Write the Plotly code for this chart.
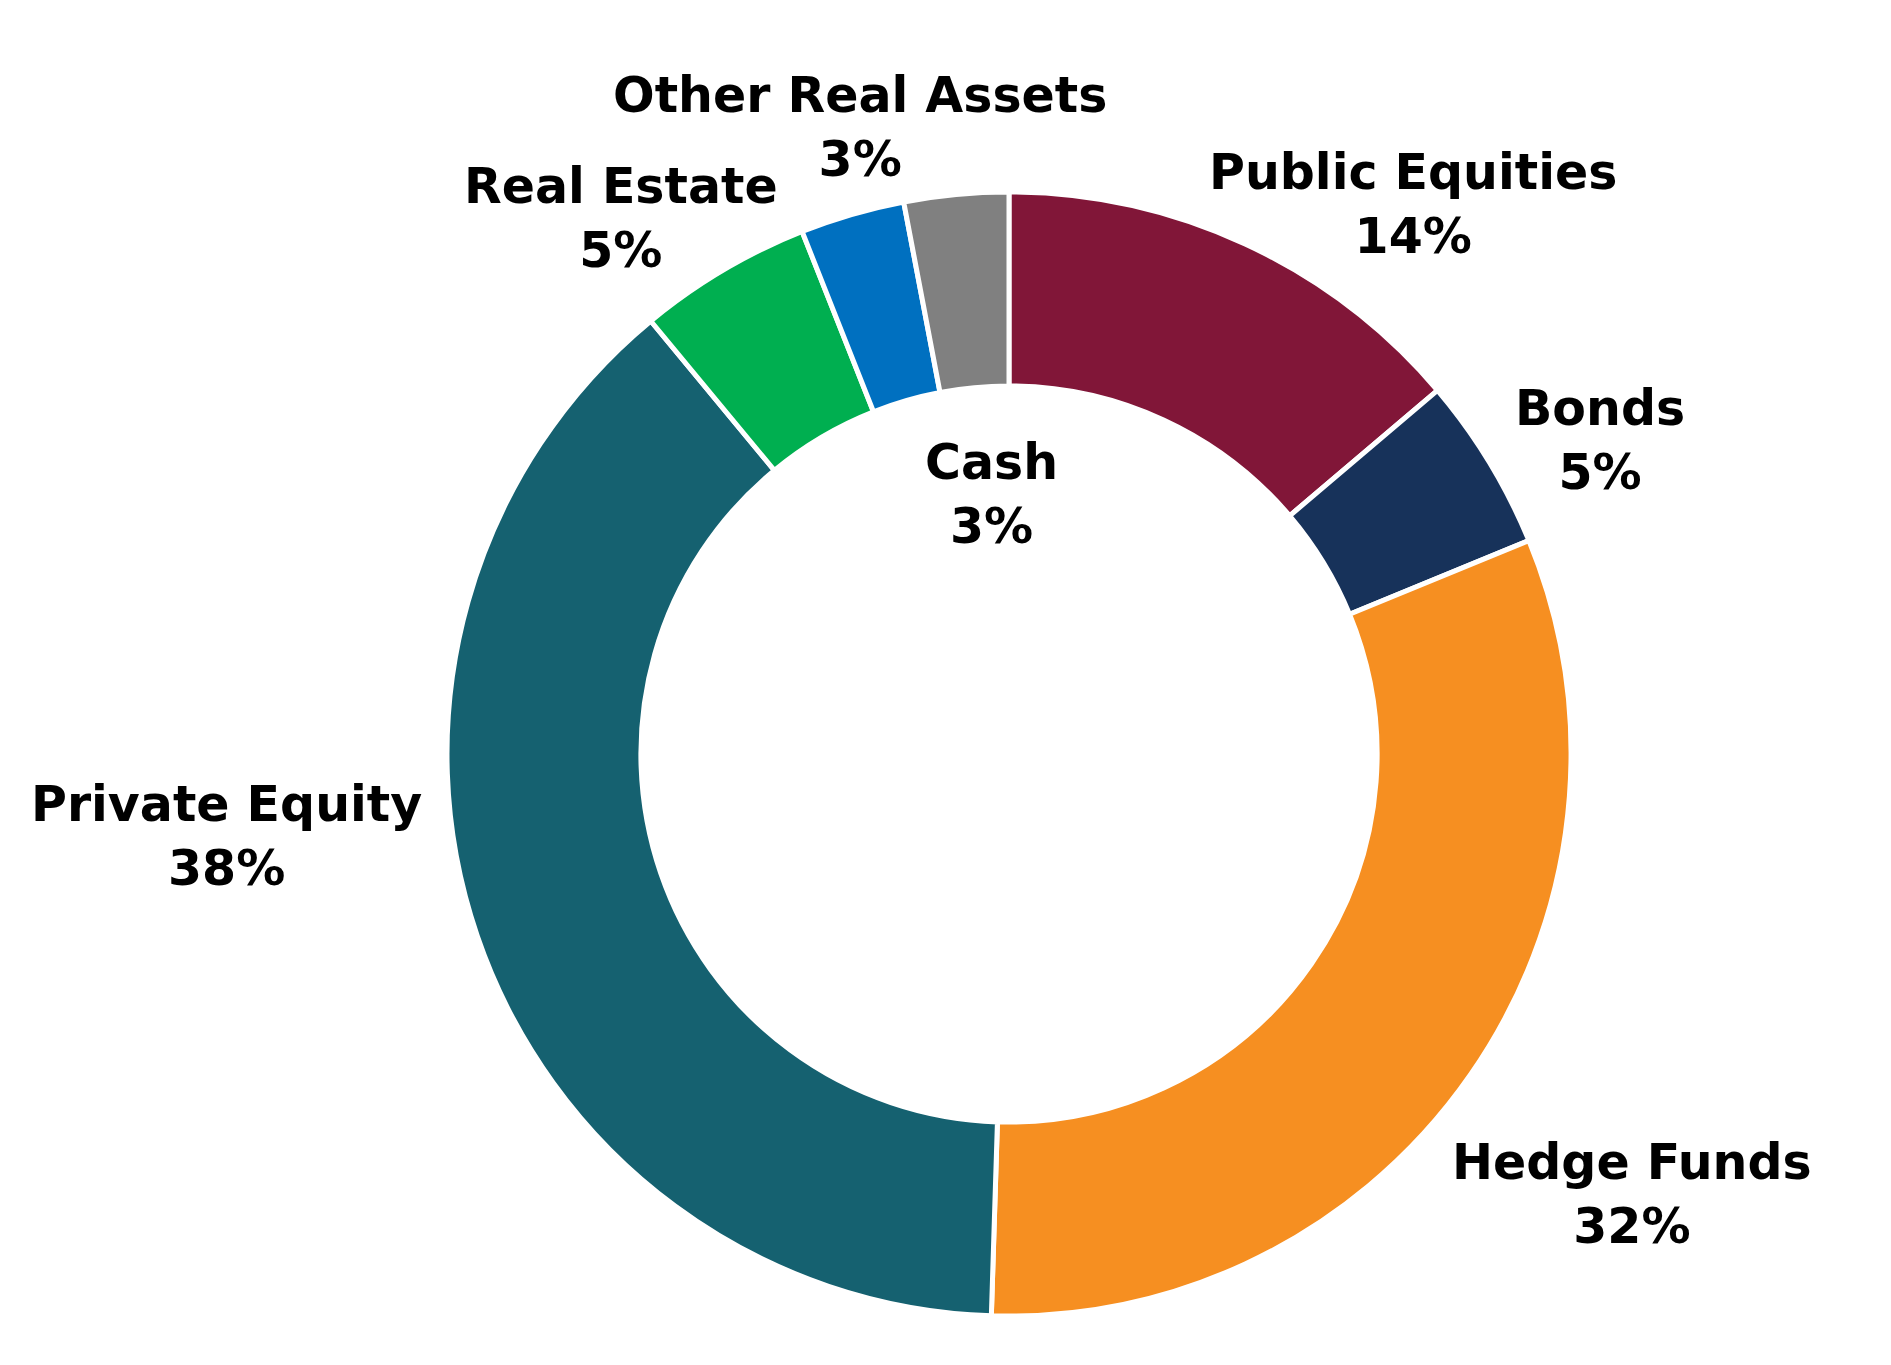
import plotly.graph_objects as go

labels = ["Public Equities", "Bonds", "Hedge Funds", "Private Equity",
          "Real Estate", "Other Real Assets", "Cash"]
values = [13.8, 5.0, 31.7, 38.5, 5.0, 3.0, 3.0]
pct_text = [14, 5, 32, 38, 5, 3, 3]
colors = ["#811638", "#17325A", "#F68F21", "#156170", "#00AF50", "#0070C0", "#808080"]

# label block centres in px from top-left
label_px = {
    "Public Equities": (1413, 205),
    "Bonds": (1600, 440),
    "Hedge Funds": (1632, 1194),
    "Private Equity": (226, 837),
    "Real Estate": (621, 218),
    "Other Real Assets": (860, 127),
    "Cash": (991, 494),
}

W, H = 1891, 1365
off = 8  # browser body margin shifts the whole figure
cx, cy, r = 1009 - off, 754 - off, 562

fig = go.Figure()
fig.add_trace(go.Pie(
    labels=labels,
    values=values,
    sort=False,
    direction="clockwise",
    rotation=0,
    hole=0.655,
    textinfo="none",
    hoverinfo="label+percent",
    marker=dict(colors=colors, line=dict(color="white", width=5)),
    domain=dict(x=[(cx - r) / W, (cx + r) / W],
                y=[(H - cy - r) / H, (H - cy + r) / H]),
    showlegend=False,
))

for lab, pct in zip(labels, pct_text):
    px_x, px_y = label_px[lab]
    fig.add_annotation(
        x=(px_x - off) / W, y=1 - (px_y - off) / H,
        xref="paper", yref="paper",
        xanchor="center", yanchor="middle",
        text=f"{lab}<br>{pct}%",
        showarrow=False,
        align="center",
        font=dict(family="DejaVu Sans", size=49, color="black", weight="bold"),
    )

fig.update_layout(
    width=W, height=H,
    margin=dict(l=0, r=0, t=0, b=0),
    paper_bgcolor="white",
    plot_bgcolor="white",
)

fig.write_html("out.html")
